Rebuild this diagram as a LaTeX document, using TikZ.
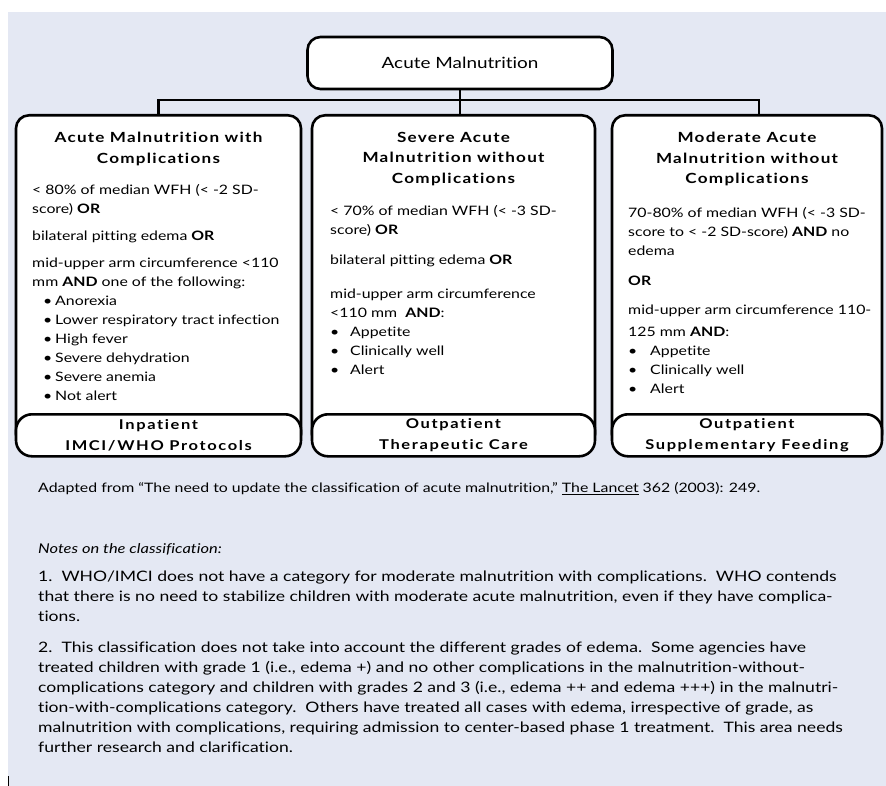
\documentclass[tikz,border=0pt]{standalone}
\usepackage{fontspec}
\setmainfont{Lato}[FakeStretch=1.22, Ligatures=NoCommon]
\newfontfamily\headfont{Lato}[FakeStretch=1.22, LetterSpace=9, Ligatures=NoCommon]
\newfontfamily\lobefont{Lato}[FakeStretch=1.22, LetterSpace=12, Ligatures=NoCommon]
\usetikzlibrary{positioning}
\definecolor{Panel}{HTML}{E4E8F3}
\newcommand{\bul}[1][22pt]{\makebox[#1][l]{\textbullet}}

\begin{document}
\begin{tikzpicture}[x=1pt, y=-1pt, every node/.style={inner sep=0pt, font=\fontsize{13}{19}\selectfont}]
  \tikzstyle{topbox}=[draw, line width=2.6pt, fill=white, rounded corners=13pt, minimum width=305pt, minimum height=52pt, font=\fontsize{15.5}{18}\selectfont]
  \tikzstyle{catbox}=[draw, line width=2.6pt, fill=white, rounded corners=13pt, minimum height=332pt, anchor=north]
  \tikzstyle{lobe}=[draw, line width=2.6pt, fill=white, rounded corners=16pt, minimum height=42pt, anchor=south, align=center, font=\lobefont\bfseries\fontsize{13.5}{20.5}\selectfont]
  \tikzstyle{link}=[line width=2.2pt]
  \tikzstyle{title}=[anchor=north, align=center, font=\headfont\bfseries\fontsize{14}{20.5}\selectfont]
  \tikzstyle{body}=[anchor=north west, align=left]
  \tikzstyle{note}=[anchor=north west, align=left, font=\fontsize{14.4}{20}\selectfont]

  \useasboundingbox (0,0) rectangle (886,786);
  \fill[Panel] (8,12) rectangle (886,786);
  \draw[line width=0.8pt] (8,776) -- (8,786);

  % top of the tree
  \node[topbox] (acute) at (460,63) {Acute Malnutrition};

  % three categories
  \node[catbox, minimum width=285pt] (withc) at (158.5,114) {};
  \node[catbox, minimum width=283pt] (sam) at (453.5,114) {};
  \node[catbox, minimum width=270pt] (mam) at (747,114) {};

  \node[lobe, minimum width=285pt] (inpat) at ([yshift=-9pt]withc.south) {Inpatient\\IMCI/WHO Protocols};
  \node[lobe, minimum width=283pt] (otp) at ([yshift=-9pt]sam.south) {Outpatient\\Therapeutic Care};
  \node[lobe, minimum width=270pt] (sfp) at ([yshift=-9pt]mam.south) {Outpatient\\Supplementary Feeding};

  \coordinate (bus) at (460,100);
  \draw[link] (acute.south) -- (bus);
  \draw[link] (withc.north) |- (bus) -| ([xshift=12pt]mam.north);
  \draw[link] (bus) -- (bus |- sam.north);

  \node[title] (t1) at (158.5,132) {Acute Malnutrition with\\Complications};
  \node[title] (t2) at (453.5,132) {Severe Acute\\Malnutrition without\\Complications};
  \node[title] (t3) at (747,132) {Moderate Acute\\Malnutrition without\\Complications};

  \node[body] (b1) at (32,184) {%
    < 80\% of median WFH (< -2 SD-\\
    score) \textbf{OR}\\[8pt]
    bilateral pitting edema \textbf{OR}\\[8pt]
    mid-upper arm circumference <110\\
    mm \textbf{AND} one of the following:\\
    \hspace*{11pt}\bul[12pt]Anorexia\\
    \hspace*{11pt}\bul[12pt]Lower respiratory tract infection\\
    \hspace*{11pt}\bul[12pt]High fever\\
    \hspace*{11pt}\bul[12pt]Severe dehydration\\
    \hspace*{11pt}\bul[12pt]Severe anemia\\
    \hspace*{11pt}\bul[12pt]Not alert};

  \node[body] (b2) at (330,205) {%
    < 70\% of median WFH (< -3 SD-\\
    score) \textbf{OR}\\[11pt]
    bilateral pitting edema \textbf{OR}\\[15pt]
    mid-upper arm circumference\\
    <110 mm \ \textbf{AND}:\\
    \bul[20pt]Appetite\\
    \bul[20pt]Clinically well\\
    \bul[20pt]Alert};

  \node[body] (b3) at (628,207) {%
    70-80\% of median WFH (< -3 SD-\\
    score to < -2 SD-score) \textbf{AND} no\\
    edema\\[11pt]
    \textbf{OR}\\[10pt]
    mid-upper arm circumference 110-\\[3pt]
    125 mm \textbf{AND}:\\
    \bul Appetite\\
    \bul Clinically well\\
    \bul Alert};

  % source and notes
  \node[anchor=north west, font=\fontsize{13}{15}\selectfont] (src) at (38,482) {Adapted from “The need to update the classification of acute malnutrition,” \underline{The Lancet} 362 (2003): 249.};
  \node[anchor=north west, font=\itshape\fontsize{13.5}{16}\selectfont] (hdr) at (38,543) {Notes on the classification:};
  \node[note] (n1) at (38,571) {1.\ \ WHO/IMCI does not have a category for moderate malnutrition with complications.\ \ WHO contends\\
    that there is no need to stabilize children with moderate acute malnutrition, even if they have complica-\\
    tions.};
  \node[note] (n2) at (38,642) {2.\ \ This classification does not take into account the different grades of edema.\ \ Some agencies have\\
    treated children with grade 1 (i.e., edema +) and no other complications in the malnutrition-without-\\
    complications category and children with grades 2 and 3 (i.e., edema ++ and edema +++) in the malnutri-\\
    tion-with-complications category.\ \ Others have treated all cases with edema, irrespective of grade, as\\
    malnutrition with complications, requiring admission to center-based phase 1 treatment.\ \ This area needs\\
    further research and clarification.};
\end{tikzpicture}
\end{document}
